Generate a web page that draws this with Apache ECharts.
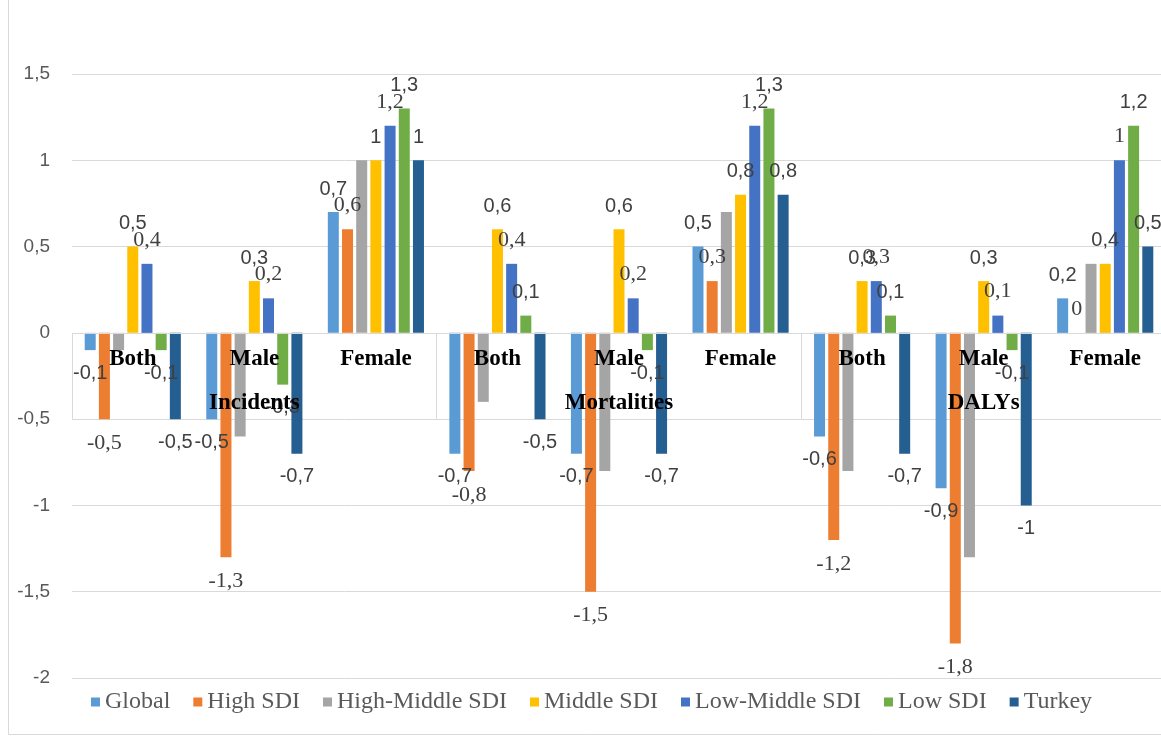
<!DOCTYPE html>
<html>
<head>
<meta charset="utf-8">
<script src="https://cdn.jsdelivr.net/npm/echarts@6/dist/echarts.min.js"></script>
<style>html,body{margin:0;padding:0;background:#fff}#chart{width:1161px;height:736px}</style>
</head>
<body>
<div id="chart"></div>
<script>
const categories = ['Both','Male','Female','Both','Male','Female','Both','Male','Female'];
const groups = ['Incidents','Mortalities','DALYs'];
const seriesNames = ['Global','High SDI','High-Middle SDI','Middle SDI','Low-Middle SDI','Low SDI','Turkey'];
const globalVals      = [-0.1,-0.5,0.7, -0.7,-0.7,0.5, -0.6,-0.9,0.2];
const highSDI         = [-0.5,-1.3,0.6, -0.8,-1.5,0.3, -1.2,-1.8,0];
const highMiddleSDI   = [-0.1,-0.6,1.0, -0.4,-0.8,0.7, -0.8,-1.3,0.4];
const middleSDI       = [0.5,0.3,1.0, 0.6,0.6,0.8, 0.3,0.3,0.4];
const lowMiddleSDI    = [0.4,0.2,1.2, 0.4,0.2,1.2, 0.3,0.1,1.0];
const lowSDI          = [-0.1,-0.3,1.3, 0.1,-0.1,1.3, 0.1,-0.1,1.2];
const turkey          = [-0.5,-0.7,1.0, -0.5,-0.7,0.8, -0.7,-1.0,0.5];
const yTicks = [-2,-1.5,-1,-0.5,0,0.5,1,1.5];

const allVals = [globalVals, highSDI, highMiddleSDI, middleSDI, lowMiddleSDI, lowSDI, turkey];
const colors = ['#5B9BD5','#ED7D31','#A5A5A5','#FFC000','#4472C4','#70AD47','#255E91'];
const showLabel = [true,true,false,true,true,true,true];
const serifLabel = [false,true,false,false,true,false,false];
const fmt = v => String(v).replace('.', ',');
const yMin = yTicks[0], yMax = yTicks[yTicks.length-1];

const series = seriesNames.map((name, i) => ({
  name, type: 'bar', xAxisIndex: 0, yAxisIndex: 0,
  barWidth: 11, barGap: '29%',
  itemStyle: { color: colors[i] },
  label: {
    show: showLabel[i], distance: 13,
    color: '#404040',
    fontFamily: serifLabel[i] ? 'Liberation Serif' : 'Liberation Sans',
    fontSize: serifLabel[i] ? 22 : 20,
    formatter: p => fmt(p.value)
  },
  data: allVals[i].map(v => ({ value: v, label: { position: v < 0 ? 'bottom' : 'top' } }))
}));
// zero line drawn through the value scale
series[0].markLine = {
  silent: true, symbol: 'none', label: { show: false },
  lineStyle: { color: '#d9d9d9', width: 1, type: 'solid' },
  data: [{ yAxis: 0 }]
};

const W = 1161, H = 736;
const plot = { left: 72, top: 74, width: 1094, height: 604 };

const chart = echarts.init(document.getElementById('chart'));
chart.setOption({
  animation: false,
  backgroundColor: '#fff',
  graphic: [{ type: 'rect', shape: { x: 8.5, y: -2, width: 1160, height: 736.5 }, style: { fill: 'none', stroke: '#d9d9d9', lineWidth: 1 }, silent: true }],
  legend: {
    left: 86, top: 685, itemWidth: 9, itemHeight: 9, itemGap: 23,
    icon: 'rect',
    textStyle: { fontFamily: 'Liberation Serif', fontSize: 24, color: '#595959' },
    data: seriesNames
  },
  grid: [Object.assign({ containLabel: false, outerBoundsMode: 'none' }, plot)],
  xAxis: [{
    type: 'category', data: categories, gridIndex: 0,
    axisLine: { show: false }, axisTick: { show: false }, axisLabel: { show: false }, splitLine: { show: false }
  }],
  yAxis: [{
    type: 'value', gridIndex: 0, min: yMin, max: yMax, interval: 0.5,
    axisLine: { show: false }, axisTick: { show: false },
    axisLabel: { margin: 22, fontFamily: 'Liberation Sans', fontSize: 19, color: '#595959', formatter: v => fmt(v) },
    splitLine: { lineStyle: { color: '#d9d9d9', width: 1 } }
  }],
  series
});

// place the category-label axes on the zero line, found through the value scale
const zeroY = chart.convertToPixel({ yAxisIndex: 0 }, 0);
const labelGrid = { left: plot.left, width: plot.width, top: 0, bottom: H - zeroY, containLabel: false, outerBoundsMode: 'none' };
chart.setOption({
  grid: [{}, Object.assign({}, labelGrid), Object.assign({}, labelGrid)],
  xAxis: [{},
    {
      type: 'category', data: categories, gridIndex: 1, position: 'bottom', z: 20,
      axisLine: { show: false }, axisTick: { show: false },
      axisLabel: { interval: 0, margin: 15, fontFamily: 'Liberation Serif', fontWeight: 'bold', fontSize: 23, color: '#000' },
      splitLine: { show: false }
    },
    {
      type: 'category', data: groups, gridIndex: 2, position: 'bottom', boundaryGap: true, z: 20,
      axisLine: { show: false },
      axisTick: { show: true, interval: 0, length: 86, lineStyle: { color: '#d9d9d9', width: 1 } },
      axisLabel: { interval: 0, margin: 59, fontFamily: 'Liberation Serif', fontWeight: 'bold', fontSize: 23, color: '#000' },
      splitLine: { show: false }
    }
  ],
  yAxis: [{},
    { type: 'value', gridIndex: 1, show: false, min: 0, max: 1 },
    { type: 'value', gridIndex: 2, show: false, min: 0, max: 1 }
  ]
});
</script>
</body>
</html>
